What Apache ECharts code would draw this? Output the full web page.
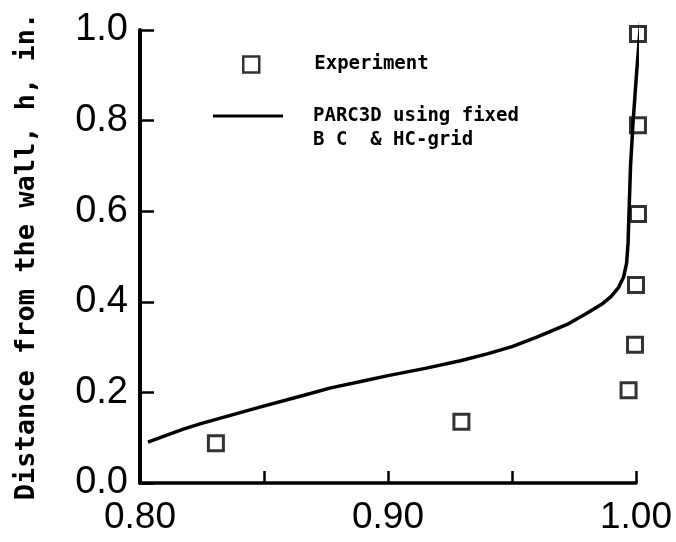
<!DOCTYPE html>
<html>
<head>
<meta charset="utf-8">
<script src="https://cdn.jsdelivr.net/npm/echarts@6/dist/echarts.min.js"></script>
<style>
  html, body { margin: 0; padding: 0; background: #fff; }
  #chart { width: 676px; height: 542px; }
</style>
</head>
<body>
<div id="chart"></div>
<script>
// experiment points (velocity ratio, distance h)
var expX = [0.8306, 0.9296, 0.997, 0.9996, 1.0, 1.0008, 1.0008, 1.0008];
var expY = [0.088, 0.135, 0.205, 0.305, 0.437, 0.594, 0.790, 0.991];

// PARC3D curve
var cfdX = [0.8032, 0.810, 0.8175, 0.8245, 0.835, 0.8487, 0.865, 0.8769, 0.890, 0.900, 0.915,
            0.9292, 0.940, 0.950, 0.960, 0.9722, 0.9800, 0.9863, 0.9900, 0.9930, 0.9950,
            0.9962, 0.9968, 0.9972, 0.9978, 0.9988, 1.0003, 1.0020];
var cfdY = [0.090, 0.104, 0.119, 0.131, 0.147, 0.168, 0.192, 0.210, 0.225, 0.237, 0.253,
            0.270, 0.285, 0.301, 0.322, 0.350, 0.374, 0.395, 0.412, 0.432, 0.455,
            0.485, 0.530, 0.600, 0.700, 0.795, 0.910, 1.026];

var mono = 'DejaVu Sans Mono';
var sans = 'Liberation Sans';

function zip(a, b) {
  return a.map(function (v, i) { return [v, b[i]]; });
}

// line icon sitting level with the first of two text lines
var lineIcon = 'path://M0,0 L0.001,0 L0,0.001 Z M0,10.5 L70,10.5 L70,13.5 L0,13.5 Z M0,48 L0.001,48 L0,47.999 Z';

var chart = echarts.init(document.getElementById('chart'));

var option = {
  backgroundColor: '#fff',
  animation: false,
  grid: { left: 140, right: 40, top: 30, bottom: 59 },
  legend: [
    {
      left: 242, top: 55, padding: 0,
      itemWidth: 16, itemHeight: 16,
      data: [{ name: 'Experiment', icon: 'rect',
        itemStyle: { color: '#fff', borderColor: '#000', borderWidth: 2.5 } }],
      textStyle: { fontFamily: mono, fontSize: 19, fontWeight: 'bold', color: '#000', padding: [0, 0, 0, 50] }
    },
    {
      left: 213, top: 104, padding: 0,
      itemWidth: 70, itemHeight: 48,
      data: [{ name: 'PARC3D', icon: lineIcon, itemStyle: { color: '#000' } }],
      formatter: function () { return 'PARC3D using fixed\nB C  & HC-grid'; },
      textStyle: { fontFamily: mono, fontSize: 19, fontWeight: 'bold', color: '#000', lineHeight: 24, padding: [0, 0, 0, 25] }
    }
  ],
  xAxis: {
    type: 'value',
    min: 0.8, max: 1.0, interval: 0.05,
    splitLine: { show: false },
    axisLine: { lineStyle: { color: '#000', width: 3.5 } },
    axisTick: { inside: true, length: 12, lineStyle: { color: '#000', width: 2.5 } },
    axisLabel: {
      margin: 16,
      fontFamily: sans, fontSize: 37, color: '#000',
      formatter: function (v) {
        return Math.round(v * 100) % 10 === 0 ? v.toFixed(2) : '';
      }
    }
  },
  yAxis: {
    type: 'value',
    min: 0, max: 1, interval: 0.2,
    name: 'Distance from the wall, h, in.',
    nameLocation: 'middle',
    nameGap: 100,
    nameTextStyle: { fontFamily: mono, fontSize: 27, fontWeight: 'bold', color: '#000' },
    splitLine: { show: false },
    axisLine: { lineStyle: { color: '#000', width: 4 } },
    axisTick: { inside: true, length: 14, lineStyle: { color: '#000', width: 2.5 } },
    axisLabel: {
      margin: 12,
      fontFamily: sans, fontSize: 38, color: '#000',
      formatter: function (v) { return v.toFixed(1); }
    }
  },
  series: [
    {
      name: 'PARC3D',
      type: 'line',
      data: zip(cfdX, cfdY),
      showSymbol: false,
      clip: false,
      lineStyle: { color: '#000', width: 3.5, join: 'round' },
      z: 2
    },
    {
      name: 'Experiment',
      type: 'scatter',
      data: zip(expX, expY),
      symbol: 'rect',
      symbolSize: 15,
      clip: false,
      itemStyle: { color: 'rgba(255,255,255,0)', borderColor: '#000', borderWidth: 3 },
      z: 3
    }
  ]
};

chart.setOption(option);
</script>
</body>
</html>
